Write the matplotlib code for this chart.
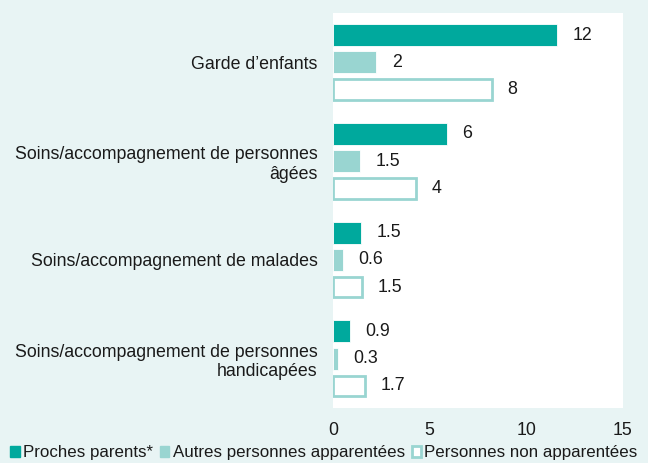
import matplotlib
matplotlib.use("Agg")
import matplotlib.pyplot as plt
from matplotlib.patches import Patch
import numpy as np

plt.rcParams['font.family'] = ['Liberation Sans', 'DejaVu Sans']

# Données
categories = [
    "Garde d\u2019enfants",
    "Soins/accompagnement de personnes\n\u00e2g\u00e9es",
    "Soins/accompagnement de malades",
    "Soins/accompagnement de personnes\nhandicap\u00e9es",
]
series_names = ["Proches parents*", "Autres personnes apparent\u00e9es",
                "Personnes non apparent\u00e9es"]
proches = [11.6, 5.9, 1.45, 0.89]
autres = [2.25, 1.4, 0.52, 0.26]
non_apparentees = [8.2, 4.3, 1.5, 1.67]
proches_txt = ["12", "6", "1.5", "0.9"]
autres_txt = ["2", "1.5", "0.6", "0.3"]
non_app_txt = ["8", "4", "1.5", "1.7"]
xticks = [0, 5, 10, 15]

DARK = "#00a99d"
LIGHT = "#99d5d1"
BG = "#e8f4f4"
TXT = "#1a1a1a"
FS = 12.8

fig = plt.figure(figsize=(6.48, 4.63), dpi=100, facecolor=BG)
ax = fig.add_axes([333 / 648, 1 - 408 / 463, 290 / 648, 395 / 463])
ax.set_facecolor("white")

y = np.arange(len(categories))
h = 0.225
off = 0.276

b1 = ax.barh(y - off, proches, height=h, color=DARK, edgecolor="white", linewidth=0.6)
b2 = ax.barh(y, autres, height=h, color=LIGHT, edgecolor="white", linewidth=0.6)
b3 = ax.barh(y + off, non_apparentees, height=h * 0.92, color="white",
             edgecolor=LIGHT, linewidth=2)

for bars, labels in [(b1, proches_txt), (b2, autres_txt), (b3, non_app_txt)]:
    ax.bar_label(bars, labels=labels, padding=11, fontsize=FS, color=TXT)

ax.set_xlim(0, 15)
ax.set_ylim(len(categories) - 0.5, -0.5)
ax.set_xticks(xticks)
ax.set_xticklabels([str(t) for t in xticks])
ax.set_yticks(y)
ax.set_yticklabels(categories, ha="right", fontsize=FS, color=TXT, linespacing=1.2)
ax.tick_params(axis="both", length=0, labelsize=FS, colors=TXT)
ax.tick_params(axis="y", pad=11)
ax.tick_params(axis="x", pad=10)
for s in ax.spines.values():
    s.set_visible(False)

handles = [
    Patch(facecolor=DARK, edgecolor=DARK),
    Patch(facecolor=LIGHT, edgecolor=LIGHT),
    Patch(facecolor="white", edgecolor=LIGHT, linewidth=2),
]
fig.legend(handles, series_names, loc="lower center", bbox_to_anchor=(0.5, 0.0),
           ncol=3, frameon=False, fontsize=12.2, handlelength=0.55, handleheight=0.55,
           handletextpad=0.2, columnspacing=0.4, labelcolor=TXT, borderaxespad=0.05,
           borderpad=0.1)

fig.savefig("out.png", dpi=100, facecolor=BG)
